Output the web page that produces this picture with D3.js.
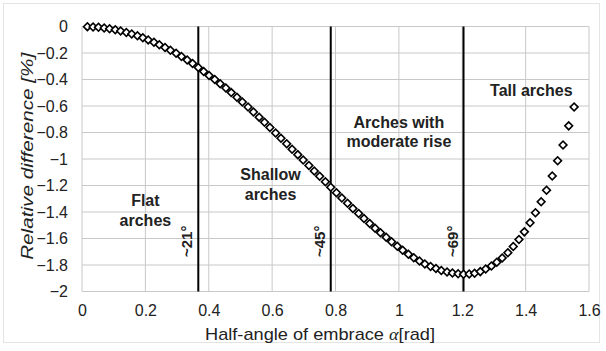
<!DOCTYPE html>
<meta charset="utf-8">
<style>
body { margin: 0; background: #fff; font-family: Arial, 'Liberation Sans', sans-serif; }
.grid line { stroke: #c8c8c8; stroke-width: 1; }
.note { font-weight: bold; font-size: 16px; fill: #222; text-anchor: middle; }
</style>
<body>
<svg id="chart"></svg>
<script src="https://cdn.jsdelivr.net/npm/d3@7"></script>
<script>
// chart size
let rwidth = 606, rheight = 351;
let margin = {top: 26.5, left: 82, right: 17, bottom: 60};
let width = rwidth - margin.left - margin.right;
let height = rheight - margin.top - margin.bottom + 0.5;

// half-angle of embrace [rad], one point per degree (1..89)
let alpha = [0.017,0.035,0.052,0.070,0.087,0.105,0.122,0.140,0.157,0.175,
  0.192,0.209,0.227,0.244,0.262,0.279,0.297,0.314,0.332,0.349,
  0.367,0.384,0.401,0.419,0.436,0.454,0.471,0.489,0.506,0.524,
  0.541,0.559,0.576,0.593,0.611,0.628,0.646,0.663,0.681,0.698,
  0.716,0.733,0.750,0.768,0.785,0.803,0.820,0.838,0.855,0.873,
  0.890,0.908,0.925,0.942,0.960,0.977,0.995,1.012,1.030,1.047,
  1.065,1.082,1.100,1.117,1.134,1.152,1.169,1.187,1.204,1.222,
  1.239,1.257,1.274,1.292,1.309,1.326,1.344,1.361,1.379,1.396,
  1.414,1.431,1.449,1.466,1.484,1.501,1.518,1.536,1.553];

// relative difference [%]
let relDiff = [-0.001,-0.003,-0.006,-0.011,-0.017,-0.025,-0.034,-0.045,-0.057,-0.070,
  -0.085,-0.101,-0.118,-0.137,-0.158,-0.179,-0.202,-0.227,-0.253,-0.280,
  -0.310,-0.339,-0.369,-0.400,-0.432,-0.465,-0.499,-0.534,-0.570,-0.607,
  -0.645,-0.684,-0.723,-0.763,-0.803,-0.844,-0.885,-0.926,-0.967,-1.008,
  -1.049,-1.090,-1.131,-1.172,-1.213,-1.255,-1.295,-1.334,-1.373,-1.411,
  -1.449,-1.486,-1.522,-1.557,-1.591,-1.625,-1.658,-1.689,-1.718,-1.745,
  -1.770,-1.792,-1.811,-1.827,-1.841,-1.853,-1.861,-1.866,-1.869,-1.868,
  -1.862,-1.850,-1.830,-1.808,-1.780,-1.747,-1.707,-1.660,-1.608,-1.550,
  -1.482,-1.406,-1.323,-1.235,-1.129,-1.013,-0.894,-0.750,-0.608];

// axis ticks
let xTicks = [0,0.2,0.4,0.6,0.8,1,1.2,1.4,1.6];
let yTicks = [0,-0.2,-0.4,-0.6,-0.8,-1,-1.2,-1.4,-1.6,-1.8,-2];

// boundary lines between arch types
let limits = [0.367, 0.785, 1.204];
let limitLabels = ['~21°', '~45°', '~69°'];

// region notes
let notes = [
  {lines: ['Flat', 'arches'], x: 0.2, y: -1.355},
  {lines: ['Shallow', 'arches'], x: 0.595, y: -1.16},
  {lines: ['Arches with', 'moderate rise'], x: 1.0, y: -0.765},
  {lines: ['Tall arches'], x: 1.418, y: -0.525}
];

let points = alpha.map((a, i) => ({a: a, v: relDiff[i]}));

let svg = d3.select('#chart').attr('width', rwidth).attr('height', rheight);

// dotted frame around the picture
svg.append('rect')
   .attr('x', 3.5).attr('y', 3.5)
   .attr('width', rwidth - 10).attr('height', rheight - 12)
   .style('fill', 'none').style('stroke', '#c8c8c8')
   .style('stroke-dasharray', '1,1');

let xscale = d3.scaleLinear().domain([0, 1.6]).range([margin.left, margin.left + width]);
let yscale = d3.scaleLinear().domain([-2, 0]).range([margin.top + height, margin.top]);

// gridlines
svg.append('g').attr('class', 'grid')
   .selectAll('line').data(xTicks).join('line')
   .attr('x1', d => xscale(d)).attr('x2', d => xscale(d))
   .attr('y1', yscale(0)).attr('y2', yscale(-2));

svg.append('g').attr('class', 'grid')
   .selectAll('line').data(yTicks).join('line')
   .attr('x1', xscale(0)).attr('x2', xscale(1.6))
   .attr('y1', d => yscale(d)).attr('y2', d => yscale(d));

// axes (labels only, lines are the grid)
let xaxis = svg.append('g').attr('transform', `translate(0,${yscale(-2)})`)
   .call(d3.axisBottom(xscale).tickValues(xTicks).tickSize(0).tickPadding(13).tickFormat(d3.format('')));
let yaxis = svg.append('g').attr('transform', `translate(${xscale(0)},0)`)
   .call(d3.axisLeft(yscale).tickValues(yTicks).tickSize(0).tickPadding(14).tickFormat(d3.format('')));

[xaxis, yaxis].forEach(ax => {
  ax.select('.domain').remove();
  ax.selectAll('text')
    .style('font-family', 'Arial, "Liberation Sans", sans-serif')
    .style('font-size', '16px').style('fill', '#222');
});

// boundary lines
svg.selectAll('.limit').data(limits).join('line')
   .attr('class', 'limit')
   .attr('x1', d => xscale(d)).attr('x2', d => xscale(d))
   .attr('y1', yscale(0)).attr('y2', yscale(-2))
   .style('stroke', '#000').style('stroke-width', 2);

svg.selectAll('.limitlabel').data(limits).join('text')
   .attr('class', 'limitlabel')
   .attr('transform', d => `translate(${xscale(d) - 6},${yscale(-1.74)}) rotate(-90)`)
   .style('font-weight', 'bold').style('font-size', '15px').style('fill', '#222')
   .text((d, i) => limitLabels[i]);

// data points: open diamonds
let diamond = d3.symbol().type(d3.symbolSquare).size(30);
svg.selectAll('.pt').data(points).join('path')
   .attr('class', 'pt')
   .attr('d', diamond)
   .attr('transform', d => `translate(${xscale(d.a)},${yscale(d.v)}) rotate(45)`)
   .style('fill', '#fff').style('stroke', '#000').style('stroke-width', 1.6);

// region notes
notes.forEach(n => {
  let t = svg.append('text').attr('class', 'note')
     .attr('x', xscale(n.x)).attr('y', yscale(n.y));
  n.lines.forEach((l, i) => {
    t.append('tspan').attr('x', xscale(n.x)).attr('dy', i === 0 ? 0 : 19.5).text(l);
  });
});

// axis titles
let xtitle = svg.append('text')
   .attr('x', 320).attr('y', 340)
   .attr('textLength', 230).attr('lengthAdjust', 'spacingAndGlyphs')
   .style('text-anchor', 'middle').style('font-size', '17px').style('fill', '#222');
xtitle.append('tspan').text('Half-angle of embrace ');
xtitle.append('tspan').style('font-style', 'italic').style('font-family', 'serif').text('α');
xtitle.append('tspan').text('[rad]');

svg.append('text')
   .attr('transform', `translate(33,${yscale(-0.98)}) rotate(-90)`)
   .attr('textLength', 207).attr('lengthAdjust', 'spacingAndGlyphs')
   .style('text-anchor', 'middle').style('font-style', 'italic')
   .style('font-size', '17px').style('fill', '#222')
   .text('Relative difference [%]');
</script>
</body>
